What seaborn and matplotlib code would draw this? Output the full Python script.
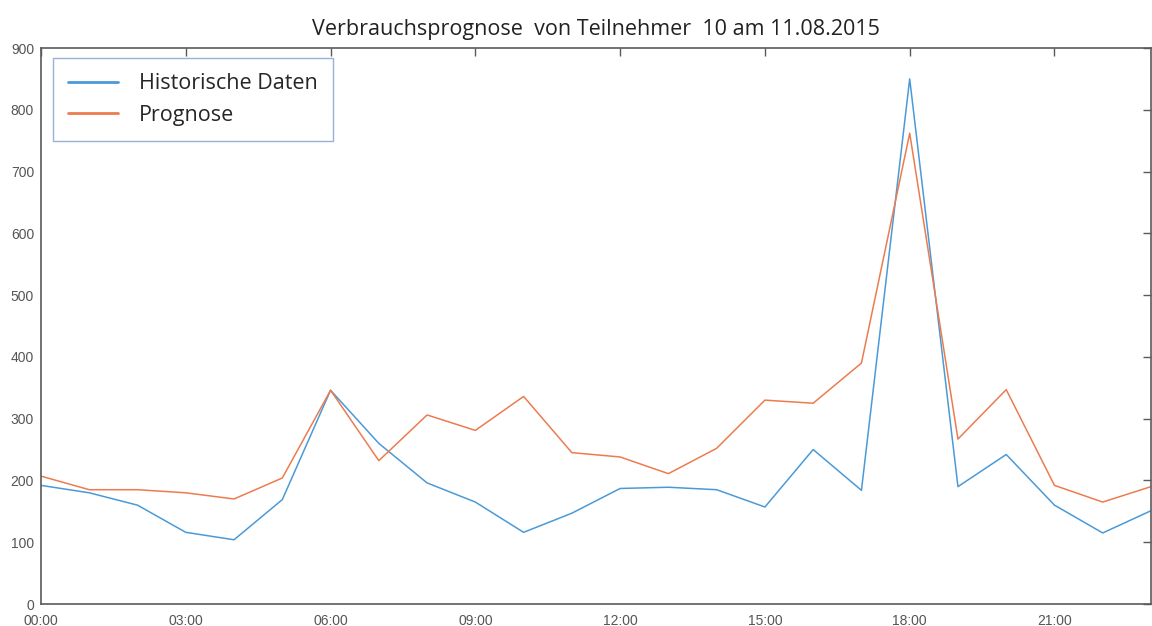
import pandas as pd
import numpy as np
import matplotlib
matplotlib.use('Agg')
import matplotlib.pyplot as plt
import seaborn as sns; sns.set_style('white')

# Hourly consumption values
hours = list(range(24))
historisch = [192, 180, 160, 116, 104, 169, 346, 260, 196, 165, 116, 147,
              187, 189, 185, 157, 250, 184, 850, 190, 242, 160, 115, 151]
prognose = [207, 185, 185, 180, 170, 204, 346, 232, 306, 281, 336, 245,
            238, 211, 252, 330, 325, 390, 762, 267, 347, 192, 165, 190]

tick_hours = [0, 3, 6, 9, 12, 15, 18, 21]
tick_labels = ['00:00', '03:00', '06:00', '09:00', '12:00', '15:00', '18:00', '21:00']
y_ticks = [0, 100, 200, 300, 400, 500, 600, 700, 800, 900]

# Long format for seaborn
df = pd.DataFrame({
    'Stunde': hours * 2,
    'Verbrauch': historisch + prognose,
    'Serie': ['Historische Daten'] * 24 + ['Prognose'] * 24,
})

colors = {'Historische Daten': '#4a9ad8', 'Prognose': '#ec7c4f'}

fig = plt.figure(figsize=(11.52, 6.26), dpi=100)
ax = fig.add_axes([41/1152, 22/626, 1110/1152, 556/626])

sns.lineplot(data=df, x='Stunde', y='Verbrauch', hue='Serie', palette=colors,
             linewidth=1.1, ax=ax)

ax.set_xlim(0, 23)
ax.set_ylim(0, 900)
ax.set_xticks(tick_hours)
ax.set_xticklabels(tick_labels)
ax.set_yticks(y_ticks)
ax.set_xlabel('')
ax.set_ylabel('')

for side in ['top', 'right', 'bottom', 'left']:
    ax.spines[side].set_visible(True)
    ax.spines[side].set_color('#5a5a5a')
    ax.spines[side].set_linewidth(1.2)

ax.tick_params(direction='in', length=6, width=1, color='#5a5a5a',
               top=True, right=True, labelsize=10, labelcolor='#555555')
ax.tick_params(axis='x', pad=7)
ax.tick_params(axis='y', pad=5)
for lab in ax.get_xticklabels() + ax.get_yticklabels():
    lab.set_family('Liberation Sans')

ax.set_title('Verbrauchsprognose  von Teilnehmer  10 am 11.08.2015',
             fontsize=15.5, family='Open Sans', color='#222222', pad=9)

leg = ax.legend(loc='upper left', bbox_to_anchor=(0.0108, 0.982), frameon=True,
                borderaxespad=0, fancybox=False, handlelength=2.3, borderpad=0.7,
                labelspacing=0.5, handletextpad=1.0,
                prop={'family': 'Open Sans', 'size': 15.5})
leg.get_frame().set_edgecolor('#7f9fd0')
leg.get_frame().set_linewidth(1.0)
for line in leg.get_lines():
    line.set_linewidth(2)

fig.savefig('out.png', dpi=100)
